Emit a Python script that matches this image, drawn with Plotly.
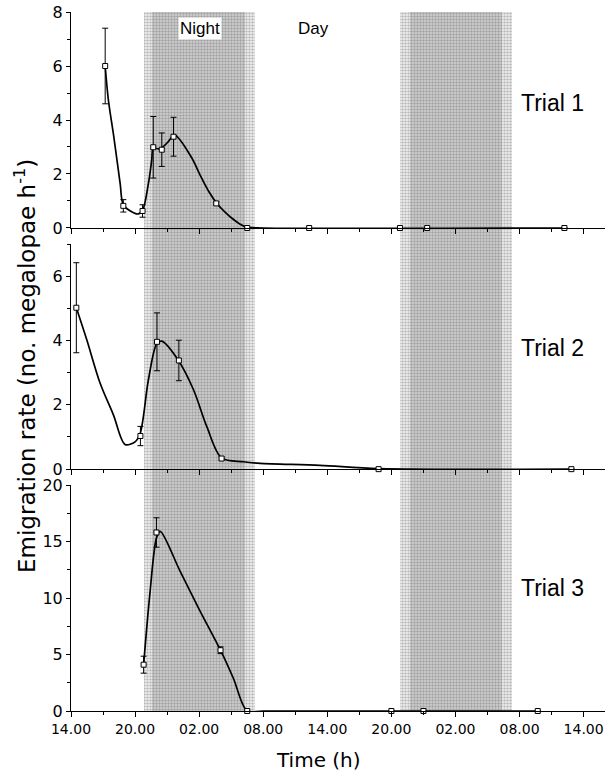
import plotly.graph_objects as go

# ---------------- data ----------------
# time in hours from midnight of day 1 (14.00 -> 14, 02.00 next day -> 26 ...)
tick_vals = [14, 20, 26, 32, 38, 44, 50, 56, 62]
tick_text = ["14.00", "20.00", "02.00", "08.00", "14.00", "20.00", "02.00", "08.00", "14.00"]

# night shading (outer light band, inner dark band)
night_outer_start = [20.85, 44.8]
night_outer_end = [31.25, 55.25]
night_inner_start = [21.6, 45.7]
night_inner_end = [30.3, 54.4]

# Trial 1 observations
t1 = [17.2, 18.9, 20.7, 21.7, 22.5, 23.6, 27.6, 30.5, 36.3, 44.8, 47.35, 60.2]
y1 = [6.0, 0.82, 0.63, 2.99, 2.9, 3.38, 0.91, 0.0, 0.0, 0.0, 0.0, 0.0]
e1 = [1.4, 0.23, 0.23, 1.14, 0.62, 0.72, 0.05, 0, 0, 0, 0, 0]
# Trial 1 fitted curve
c1_t = [17.2, 17.5, 18.0, 18.6, 18.9, 19.6, 20.3, 20.7, 21.25, 21.56, 21.7, 22.3, 23.0, 23.7,
        25.3, 26.1, 26.9, 27.66, 28.4, 29.07, 29.8, 30.47, 32.0, 60.2]
c1_y = [6.0, 4.74, 3.4, 1.65, 0.85, 0.62, 0.52, 0.65, 1.65, 2.52, 2.95, 2.93, 3.15, 3.44,
        2.6, 1.95, 1.35, 0.91, 0.6, 0.36, 0.15, 0.03, 0.0, 0.0]

# Trial 2 observations
t2 = [14.5, 20.5, 22.05, 24.1, 28.1, 42.8, 60.85]
y2 = [5.02, 1.03, 3.96, 3.38, 0.33, 0.0, 0.0]
e2 = [1.4, 0.3, 0.9, 0.63, 0.05, 0, 0]
# Trial 2 fitted curve
c2_t = [14.5, 15.47, 16.72, 17.97, 19.06, 20.0, 20.47, 21.25, 22.03, 22.5, 24.06, 25.47, 26.72,
        28.1, 30.15, 31.7, 37.3, 42.8, 60.85]
c2_y = [5.02, 4.03, 2.68, 1.69, 0.77, 0.85, 1.1, 2.78, 3.9, 3.98, 3.38, 2.47, 1.32,
        0.35, 0.23, 0.18, 0.12, 0.02, 0.0]

# Trial 3 observations
t3 = [20.8, 22.0, 28.0, 30.5, 44.0, 47.0, 57.7]
y3 = [4.1, 15.8, 5.38, 0.0, 0.0, 0.0, 0.0]
e3 = [0.75, 1.3, 0.3, 0, 0, 0, 0]
# Trial 3 fitted curve
c3_t = [20.8, 21.4, 22.0, 22.35, 24.2, 26.0, 28.0, 29.2, 30.5, 32.0, 57.7]
c3_y = [4.1, 10.5, 15.3, 15.9, 12.4, 9.0, 5.38, 2.9, 0.0, 0.0, 0.0]

trial_labels = ["Trial 1", "Trial 2", "Trial 3"]

# ---------------- figure ----------------
fig = go.Figure()

# background night bands on a hidden full-height axis pair (x / y)
fig.add_trace(go.Bar(
    x=[(a + b) / 2 for a, b in zip(night_outer_start, night_outer_end)],
    y=[1] * len(night_outer_start),
    width=[b - a for a, b in zip(night_outer_start, night_outer_end)],
    marker=dict(color="#e0e0e0", line=dict(width=0),
                pattern=dict(shape=".", fgcolor="#7c7c7c", bgcolor="#ebebeb", size=3, solidity=0.42)),
    xaxis="x", yaxis="y", showlegend=False, hoverinfo="skip"))
fig.add_trace(go.Bar(
    x=[(a + b) / 2 for a, b in zip(night_inner_start, night_inner_end)],
    y=[1] * len(night_inner_start),
    width=[b - a for a, b in zip(night_inner_start, night_inner_end)],
    marker=dict(color="#b8b8b8", line=dict(width=0),
                pattern=dict(shape=".", fgcolor="#707070", bgcolor="#d4d4d4", size=3, solidity=0.5)),
    xaxis="x", yaxis="y", showlegend=False, hoverinfo="skip"))

panels = [
    (t1, y1, e1, c1_t, c1_y, "x2", "y2"),
    (t2, y2, e2, c2_t, c2_y, "x3", "y3"),
    (t3, y3, e3, c3_t, c3_y, "x4", "y4"),
]
for (tt, yy, ee, ct, cy, xa, ya) in panels:
    fig.add_trace(go.Scatter(x=ct, y=cy, mode="lines",
                             line=dict(color="black", width=1.7, shape="spline", smoothing=0.9),
                             xaxis=xa, yaxis=ya, showlegend=False, hoverinfo="skip", cliponaxis=False))
    fig.add_trace(go.Scatter(x=tt, y=yy, mode="markers",
                             marker=dict(symbol="square", size=5, color="white", line=dict(color="black", width=1)),
                             error_y=dict(type="data", array=ee, visible=True, color="black", thickness=1, width=3),
                             xaxis=xa, yaxis=ya, showlegend=False, cliponaxis=False))

tickfont = dict(family="DejaVu Sans", size=14, color="black")
ytickfont = dict(family="DejaVu Sans", size=16, color="black")

xcommon = dict(range=[14, 64], showline=True, linecolor="black", linewidth=1, ticks="outside",
               ticklen=5, tickcolor="black", tickwidth=1, tickvals=tick_vals, ticktext=tick_text,
               showgrid=False, zeroline=False, tickfont=tickfont, automargin=False,
               ticklabeloverflow="allow",
               minor=dict(ticks="outside", ticklen=3, tickcolor="black", dtick=3, tick0=14, showgrid=False))
ycommon = dict(showline=True, linecolor="black", linewidth=1, ticks="outside", ticklen=4,
               tickcolor="black", showgrid=False, zeroline=False, tickfont=ytickfont, automargin=False,
               ticklabeloverflow="allow")

dom1 = [0.691, 1.0]
dom2 = [0.346, 0.668]
dom3 = [0.0, 0.3233]

fig.update_layout(
    width=612, height=774,
    margin=dict(l=71, r=7, t=12, b=63),
    paper_bgcolor="white", plot_bgcolor="rgba(0,0,0,0)",
    barmode="overlay", bargap=0,
    xaxis=dict(domain=[0, 1], range=[14, 64], visible=False, fixedrange=True),
    yaxis=dict(domain=[0, 1], range=[0, 1], visible=False, fixedrange=True),
    xaxis2=dict(anchor="y2", showticklabels=False, **xcommon),
    yaxis2=dict(domain=dom1, anchor="x2", range=[0, 8], dtick=2, tick0=0,
                minor=dict(ticks="outside", ticklen=3, tickcolor="black", dtick=1), **ycommon),
    xaxis3=dict(anchor="y3", showticklabels=False, **xcommon),
    yaxis3=dict(domain=dom2, anchor="x3", range=[0, 7], dtick=2, tick0=0,
                minor=dict(ticks="outside", ticklen=3, tickcolor="black", dtick=1), **ycommon),
    xaxis4=dict(anchor="y4", showticklabels=True, **xcommon),
    yaxis4=dict(domain=dom3, anchor="x4", range=[0, 20], dtick=5, tick0=0,
                minor=dict(ticks="outside", ticklen=3, tickcolor="black", dtick=2.5), **ycommon),
)

ann = []
ann.append(dict(x=26.1, y=0.9757, xref="x", yref="paper", text="Night", showarrow=False,
                xanchor="center", yanchor="middle",
                font=dict(family="Liberation Sans", size=17, color="black"), bgcolor="white", borderpad=1))
ann.append(dict(x=36.7, y=0.9757, xref="x", yref="paper", text="Day", showarrow=False,
                xanchor="center", yanchor="middle",
                font=dict(family="Liberation Sans", size=17, color="black")))
trial_pos = [("x2", "y2", 4.63), ("x3", "y3", 3.78), ("x4", "y4", 10.9)]
for lab, (xa, ya, yv) in zip(trial_labels, trial_pos):
    ann.append(dict(x=59.1, y=yv, xref=xa, yref=ya, text=lab, showarrow=False,
                    xanchor="center", yanchor="middle",
                    font=dict(family="Liberation Sans", size=23, color="black")))
ann.append(dict(x=-0.0861, y=0.4936, xref="paper", yref="paper", textangle=-90,
                xanchor="center", yanchor="middle",
                text="Emigration rate (no. megalopae h<sup>-1</sup>)", showarrow=False,
                font=dict(family="DejaVu Sans", size=23, color="black")))
ann.append(dict(x=0.464, y=-0.0701, xref="paper", yref="paper", text="Time (h)", showarrow=False,
                xanchor="center", yanchor="middle",
                font=dict(family="DejaVu Sans", size=20, color="black")))
fig.update_layout(annotations=ann)

# remove the default page margin so the figure sits at the window's top-left corner
fig.write_html("out.html", config={"displayModeBar": False},
               post_script="document.body.style.margin='0px';")
